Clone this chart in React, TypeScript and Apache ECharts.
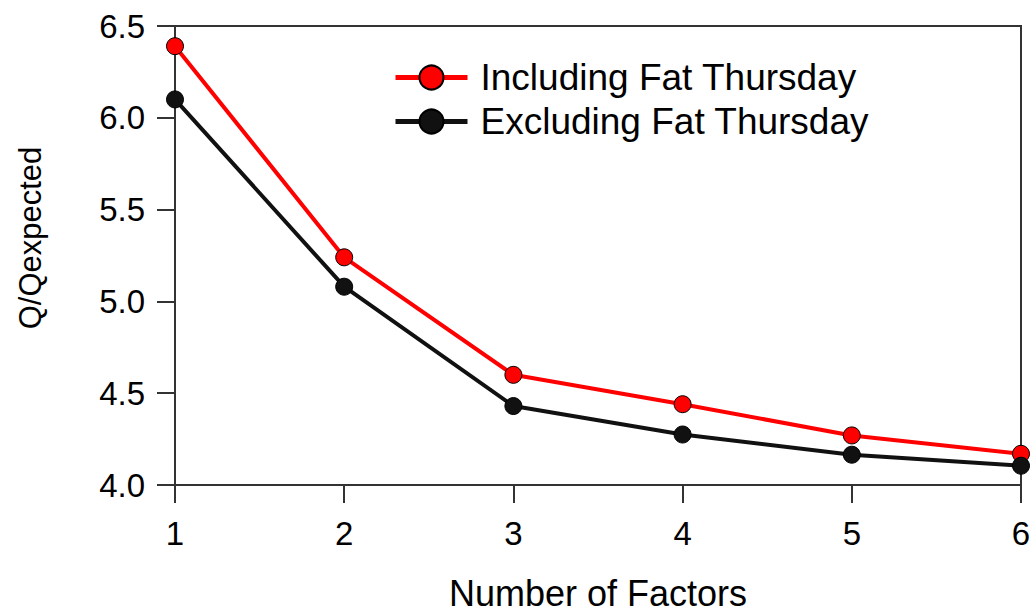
import React, { useEffect, useRef } from "react";
import * as echarts from "echarts";

const factors = [1, 2, 3, 4, 5, 6];
const includingFatThursday = [6.39, 5.24, 4.6, 4.44, 4.27, 4.17];
const excludingFatThursday = [6.1, 5.08, 4.43, 4.275, 4.165, 4.105];
const seriesNames = ["Including Fat Thursday", "Excluding Fat Thursday"];
const yAxisTitle = "Q/Qexpected";
const xAxisTitle = "Number of Factors";

const FONT = "'Liberation Sans', Arial, sans-serif";

export default function App() {
  const ref = useRef<HTMLDivElement>(null);

  useEffect(() => {
    if (!ref.current) return;
    const chart = echarts.init(ref.current, undefined, { renderer: "svg" });
    const toPairs = (vals: number[]) => factors.map((f, i) => [f, vals[i]]);
    chart.setOption({
      animation: false,
      backgroundColor: "#ffffff",
      textStyle: { fontFamily: FONT, color: "#000" },
      grid: {
        left: 175,
        right: 13,
        top: 26,
        bottom: 129,
        show: true,
        borderColor: "#333",
        borderWidth: 2,
      },
      legend: {
        orient: "vertical",
        left: 388,
        top: 54,
        itemWidth: 72,
        itemHeight: 30,
        itemGap: 7,
        lineStyle: { width: 5 },
        textStyle: {
          fontFamily: FONT,
          fontSize: 37,
          color: "#000",
          padding: [0, 0, 0, 8],
        },
        data: seriesNames,
      },
      xAxis: {
        type: "value",
        min: 1,
        max: 6,
        interval: 1,
        name: xAxisTitle,
        nameLocation: "middle",
        nameGap: 90,
        nameTextStyle: { fontFamily: FONT, fontSize: 36, color: "#000", verticalAlign: "top" },
        axisLine: { lineStyle: { color: "#333", width: 2 } },
        axisTick: { show: true, length: 18, lineStyle: { color: "#333", width: 2 } },
        axisLabel: { fontFamily: FONT, fontSize: 33, color: "#000", margin: 32 },
        splitLine: { show: false },
      },
      yAxis: {
        type: "value",
        min: 4,
        max: 6.5,
        interval: 0.5,
        axisLine: { show: true, lineStyle: { color: "#333", width: 2 } },
        axisTick: { show: true, length: 18, lineStyle: { color: "#333", width: 2 } },
        axisLabel: {
          fontFamily: FONT,
          fontSize: 33,
          color: "#000",
          margin: 30,
          formatter: (v: number) => v.toFixed(1),
        },
        splitLine: { show: false },
      },
      graphic: [
        {
          type: "text",
          x: 30,
          y: 238,
          rotation: Math.PI / 2,
          style: {
            text: yAxisTitle,
            fontFamily: FONT,
            fontSize: 31,
            fill: "#000",
            align: "center",
            verticalAlign: "middle",
          },
        },
      ],
      series: [
        {
          name: seriesNames[0],
          type: "line",
          data: toPairs(includingFatThursday),
          symbol: "circle",
          symbolSize: 17,
          lineStyle: { color: "#ff0000", width: 4 },
          itemStyle: { color: "#ff0000", borderColor: "#000", borderWidth: 1 },
          z: 2,
        },
        {
          name: seriesNames[1],
          type: "line",
          data: toPairs(excludingFatThursday),
          symbol: "circle",
          symbolSize: 17,
          lineStyle: { color: "#111", width: 4 },
          itemStyle: { color: "#111", borderColor: "#000", borderWidth: 1 },
          z: 3,
        },
      ],
    });
    return () => chart.dispose();
  }, []);

  return (
    <div
      ref={ref}
      style={{ position: "fixed", left: 0, top: 0, width: 1034, height: 616 }}
    />
  );
}
